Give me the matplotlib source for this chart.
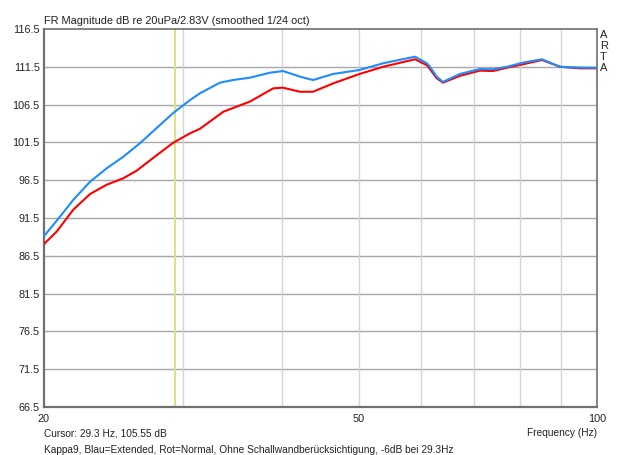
import numpy as np
import matplotlib
matplotlib.use('Agg')
import matplotlib.pyplot as plt
from matplotlib.ticker import FixedLocator, NullLocator

plt.rcParams['font.family'] = ['Liberation Sans', 'DejaVu Sans']

########## Data ##########
blue_freq = [20, 20.95, 21.78, 22.87, 24.0, 25.19, 26.45, 27.76, 29.14, 30.59,
             31.49, 33.38, 34.66, 36.42, 38.61, 40.1, 42.13, 43.76, 46.38, 50.1,
             53.64, 58.88, 60.97, 61.5, 62.7, 63.87, 67.1, 71.1, 73.9, 76.95,
             80.6, 85.2, 89.8, 95.2, 100]
blue_db = [89.1, 91.67, 93.9, 96.3, 98.07, 99.6, 101.4, 103.4, 105.4, 107.1,
           108.0, 109.4, 109.75, 110.06, 110.72, 110.94, 110.2, 109.75, 110.55, 111.08,
           111.96, 112.84, 111.96, 111.5, 110.2, 109.5, 110.55, 111.2, 111.17, 111.5,
           112.05, 112.49, 111.5, 111.4, 111.38]

red_freq = [20, 20.75, 21.78, 22.87, 24.0, 25.19, 26.19, 27.76, 29.14, 30.59,
            31.49, 33.71, 36.42, 38.98, 40.08, 42.13, 43.76, 46.38, 50.1, 53.64,
            58.88, 60.97, 61.5, 62.7, 63.87, 67.1, 71.1, 73.9, 76.95, 79.9,
            85.2, 89.8, 95.2, 100]
red_db = [88.05, 89.7, 92.6, 94.67, 95.9, 96.75, 97.76, 99.8, 101.46, 102.7,
          103.3, 105.56, 106.9, 108.65, 108.74, 108.2, 108.2, 109.3, 110.55, 111.5,
          112.5, 111.7, 111.2, 110.0, 109.4, 110.3, 110.99, 110.94, 111.38, 111.74,
          112.4, 111.5, 111.3, 111.3]

cursor_freq = 29.3
y_ticks = [66.5, 71.5, 76.5, 81.5, 86.5, 91.5, 96.5, 101.5, 106.5, 111.5, 116.5]
x_grid = [30, 40, 50, 60, 70, 80, 90]
x_labels = {20: '20', 50: '50', 100: '100'}

########## Figure ##########
fig = plt.figure(figsize=(6.4, 4.55), dpi=100)
ax = fig.add_axes([44 / 640, 1 - 407 / 455, 553 / 640, 378 / 455])

ax.set_xscale('log')
ax.set_xlim(20, 100)
ax.set_ylim(66.5, 116.5)

# grid: horizontal darker, vertical light
for y in y_ticks[1:-1]:
    ax.axhline(y, color='#a8a8a8', lw=1.0, zorder=1)
for x in x_grid:
    ax.axvline(x, color='#d4d4d4', lw=1.0, zorder=1)
ax.axvline(cursor_freq, color='#e0e08a', lw=1.5, zorder=2)

ax.plot(red_freq, red_db, color='#ff0000', lw=1.5, zorder=3)
ax.plot(blue_freq, blue_db, color='#1e8cff', lw=1.5, zorder=4)

ax.xaxis.set_major_locator(FixedLocator(list(x_labels.keys())))
ax.xaxis.set_minor_locator(NullLocator())
ax.set_xticklabels(list(x_labels.values()))
ax.yaxis.set_major_locator(FixedLocator(y_ticks))
ax.set_yticklabels(['%.1f' % v for v in y_ticks])
ax.tick_params(length=0, labelsize=7.8, colors='#222222', pad=3)
ax.tick_params(axis='x', pad=5)

for side in ['left', 'bottom', 'right', 'top']:
    ax.spines[side].set_color('#707070')
    ax.spines[side].set_linewidth(1.2)
ax.spines['left'].set_linewidth(1.6)
ax.spines['bottom'].set_linewidth(1.6)

########## Text ##########
fig.text(44 / 640, 1 - 21 / 455, 'FR Magnitude dB re 20uPa/2.83V (smoothed 1/24 oct)',
         fontsize=7.9, color='#222222', va='center', ha='left')
for i, ch in enumerate('ARTA'):
    fig.text(600 / 640, 1 - (35 + i * 11) / 455, ch, fontsize=8, color='#222222',
             va='center', ha='left')
fig.text(44 / 640, 1 - 433 / 455, 'Cursor: 29.3 Hz, 105.55 dB',
         fontsize=7.3, color='#222222', va='center', ha='left')
fig.text(597 / 640, 1 - 433 / 455, 'Frequency (Hz)',
         fontsize=7.3, color='#222222', va='center', ha='right')
fig.text(44 / 640, 1 - 450 / 455,
         'Kappa9, Blau=Extended, Rot=Normal, Ohne Schallwandberücksichtigung, -6dB bei 29.3Hz',
         fontsize=7.3, color='#222222', va='center', ha='left')

fig.savefig('out.png', dpi=100)
